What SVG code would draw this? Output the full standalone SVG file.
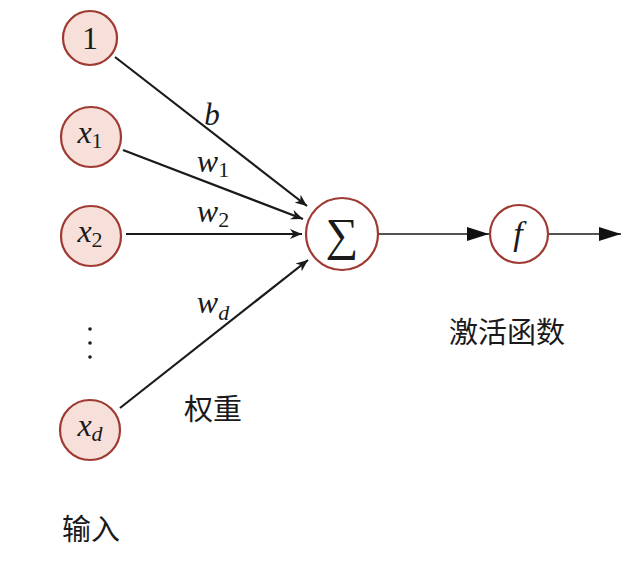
<svg xmlns="http://www.w3.org/2000/svg" width="633" height="562" viewBox="0 0 633 562">
<defs>
<style>
.in{fill:#f6e0d9;stroke:#9f3a32;stroke-width:2.2}
.op{fill:#ffffff;stroke:#9f3a32;stroke-width:2.2}
.e{stroke:#1a1a1a;stroke-width:2.2;fill:none}
.e2{stroke:#1a1a1a;stroke-width:1.4;fill:none}
.m{font-family:"Liberation Serif","DejaVu Serif",serif;fill:#1a1a1a}
.i{font-style:italic}
.cjk{font-family:"Noto Sans CJK SC","Noto Sans CJK JP",sans-serif;font-size:29px;fill:#1a1a1a}
</style>
<marker id="sa" viewBox="0 0 12 10" refX="12" refY="5" markerWidth="12" markerHeight="10" markerUnits="userSpaceOnUse" orient="auto">
<path d="M0,0 L12,5 L0,10 L3.5,5 Z" fill="#1a1a1a"/>
</marker>
<marker id="ta" viewBox="0 0 22 14" refX="22" refY="7" markerWidth="22" markerHeight="14" markerUnits="userSpaceOnUse" orient="auto">
<path d="M0,0 L22,7 L0,14 Z" fill="#111"/>
</marker>
</defs>
<g id="connectors">
<line class="e" x1="115" y1="57" x2="307" y2="206" marker-end="url(#sa)"/>
<line class="e" x1="123" y1="150" x2="303" y2="219" marker-end="url(#sa)"/>
<line class="e" x1="126" y1="234" x2="302" y2="234" marker-end="url(#sa)"/>
<line class="e" x1="120" y1="408" x2="308" y2="260" marker-end="url(#sa)"/>
<line class="e2" x1="379" y1="234" x2="489" y2="234" marker-end="url(#ta)"/>
<line class="e2" x1="549" y1="234" x2="621" y2="234" marker-end="url(#ta)"/>
<text class="m i" x="212" y="125" font-size="31" text-anchor="middle">b</text>
<text class="m" x="213" y="172" font-size="32" text-anchor="middle"><tspan class="i">w</tspan><tspan font-size="22" dy="5">1</tspan></text>
<text class="m" x="213" y="222" font-size="32" text-anchor="middle"><tspan class="i">w</tspan><tspan font-size="22" dy="5">2</tspan></text>
<text class="m" x="213" y="313" font-size="32" text-anchor="middle"><tspan class="i">w</tspan><tspan class="i" font-size="22" dy="7">d</tspan></text>
</g>
<g id="node-1">
<circle class="in" cx="90" cy="38" r="27"/>
<text class="m" x="90" y="49" font-size="32" text-anchor="middle">1</text>
</g>
<g id="node-x1">
<circle class="in" cx="91" cy="137" r="30"/>
<text class="m" x="90" y="143" font-size="32" text-anchor="middle"><tspan class="i">x</tspan><tspan font-size="22" dy="5">1</tspan></text>
</g>
<g id="node-x2">
<circle class="in" cx="91" cy="236" r="30"/>
<text class="m" x="90" y="242" font-size="32" text-anchor="middle"><tspan class="i">x</tspan><tspan font-size="22" dy="5">2</tspan></text>
</g>
<g id="dots">
<circle cx="90" cy="329" r="1.8" fill="#1a1a1a"/>
<circle cx="90" cy="343" r="1.8" fill="#1a1a1a"/>
<circle cx="90" cy="357" r="1.8" fill="#1a1a1a"/>
</g>
<g id="node-xd">
<circle class="in" cx="90" cy="430" r="30"/>
<text class="m" x="90" y="436" font-size="32" text-anchor="middle"><tspan class="i">x</tspan><tspan class="i" font-size="22" dy="5">d</tspan></text>
</g>
<g id="node-sum">
<circle class="op" cx="342" cy="234" r="36"/>
<text class="m" x="342" y="250" font-size="46" text-anchor="middle">∑</text>
</g>
<g id="node-f">
<circle class="op" cx="519" cy="234" r="29"/>
<text class="m i" x="518" y="245" font-size="34" text-anchor="middle">f</text>
</g>
<g id="labels">
<text class="cjk" x="213" y="420" text-anchor="middle">权重</text>
<text class="cjk" x="91" y="540" text-anchor="middle">输入</text>
<text class="cjk" x="507" y="343" text-anchor="middle">激活函数</text>
</g>
</svg>
